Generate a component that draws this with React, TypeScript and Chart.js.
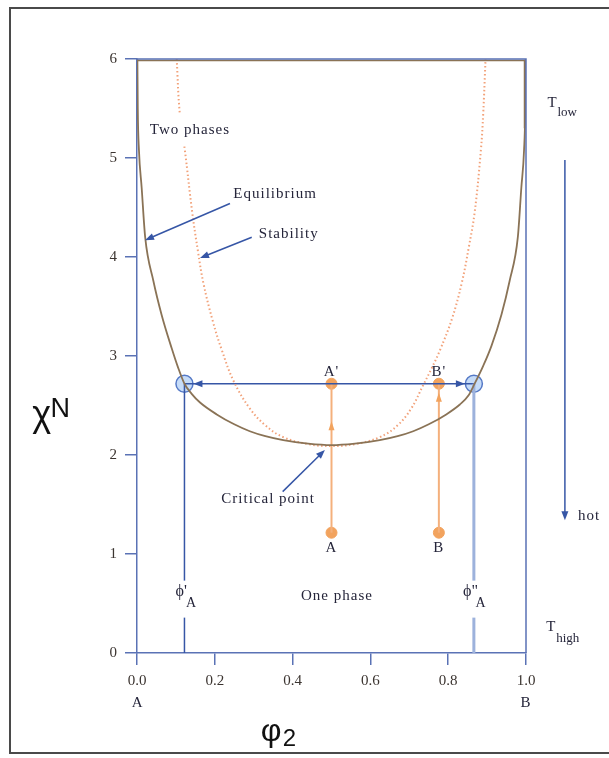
import React, { useEffect, useRef } from 'react';
import { Chart, registerables } from 'chart.js';

Chart.register(...registerables);

// ---------- data ----------
const binodalPhi = [0.001, 0.002, 0.005, 0.012, 0.021, 0.042, 0.063, 0.089, 0.105, 0.122, 0.14, 0.162, 0.205, 0.25, 0.29, 0.33, 0.376, 0.44, 0.5, 0.56, 0.624, 0.67, 0.71, 0.75, 0.795, 0.83, 0.852, 0.868, 0.89, 0.911, 0.937, 0.958, 0.979, 0.988, 0.995, 0.998, 0.999];
const binodalChiN = [6.0, 5.5, 5.08, 4.7, 4.2, 3.76, 3.42, 3.08, 2.89, 2.72, 2.62, 2.53, 2.41, 2.31, 2.24, 2.19, 2.15, 2.115, 2.1, 2.115, 2.15, 2.19, 2.24, 2.31, 2.41, 2.51, 2.6, 2.72, 2.9, 3.1, 3.42, 3.76, 4.2, 4.7, 5.08, 5.5, 6.0];

const spinodalPhi = [0.102, 0.11, 0.123, 0.142, 0.157, 0.171, 0.195, 0.218, 0.248, 0.29, 0.33, 0.376, 0.44, 0.5, 0.56, 0.624, 0.67, 0.705, 0.735, 0.758, 0.779, 0.81, 0.835, 0.853, 0.868, 0.884, 0.89, 0.896];
const spinodalChiN = [6.0, 5.45, 5.08, 4.45, 4.05, 3.73, 3.35, 3.06, 2.75, 2.47, 2.3, 2.18, 2.11, 2.09, 2.11, 2.18, 2.3, 2.47, 2.7, 2.88, 3.06, 3.38, 3.74, 4.1, 4.45, 5.08, 5.45, 6.0];

const coexPhi = [0.122, 0.866]; // phi'_A, phi''_A
const tieChiN = 2.72;
const quenchPhi = [0.5, 0.776]; // A, B
const quenchStartChiN = 1.215;
const quenchEndChiN = 2.72;

const xTicks = [0, 0.2, 0.4, 0.6, 0.8, 1.0];
const xTickLabels = ['0.0', '0.2', '0.4', '0.6', '0.8', '1.0'];
const yTicks = [0, 1, 2, 3, 4, 5, 6];
const yTickLabels = ['0', '1', '2', '3', '4', '5', '6'];

// text labels (data coordinates)
const labelTexts = ['Two phases', 'Equilibrium', 'Stability', 'Critical point', "A'", "B'", 'A', 'B', 'One phase', 'hot', 'A', 'B'];
const labelPhi = [0.136, 0.355, 0.39, 0.337, 0.5, 0.776, 0.5, 0.776, 0.514, 1.162, 0.002, 1.0];
const labelChiN = [5.28, 4.64, 4.23, 1.55, 2.84, 2.84, 1.06, 1.06, 0.576, 1.384, -0.505, -0.505];

// pointer arrows [fromPhi, fromChiN, toPhi, toChiN]
const pointerArrows = [
  [0.239, 4.54, 0.0206, 4.17],
  [0.295, 4.2, 0.162, 3.99],
  [0.3745, 1.63, 0.483, 2.05],
  [1.1, 4.98, 1.1, 1.34],
];

// ---------- styles ----------
const AXIS_BLUE = '#5a72b5';
const TIE_BLUE = '#3656a6';
const BROWN = '#8a7356';
const SPIN = '#f2a27a';
const ORANGE = '#f2a35e';
const ORANGE_LINE = '#f4b07c';
const TEXT = '#25253a';
const SERIF = "'Liberation Serif', 'DejaVu Serif', serif";
const SANS = "'Liberation Sans', 'DejaVu Sans', sans-serif";
const W = 609;
const H = 758;

const pts = (xs: number[], ys: number[]) => xs.map((x, i) => ({ x, y: ys[i] }));

function drawText(ctx: CanvasRenderingContext2D, s: string, x: number, y: number, font: string, color: string, align: CanvasTextAlign = 'center', spacing = 0, bg = false) {
  ctx.save();
  ctx.font = font;
  (ctx as any).letterSpacing = spacing + 'px';
  ctx.textAlign = align;
  ctx.textBaseline = 'middle';
  if (bg) {
    const w = ctx.measureText(s).width;
    const x0 = align === 'center' ? x - w / 2 : align === 'left' ? x : x - w;
    ctx.fillStyle = '#ffffff';
    ctx.fillRect(x0 - 3, y - 16, w + 6, 32);
  }
  ctx.fillStyle = color;
  ctx.fillText(s, x, y);
  ctx.restore();
}

function arrowHead(ctx: CanvasRenderingContext2D, x: number, y: number, ang: number, color: string, len = 9, half = 3.5) {
  ctx.save();
  ctx.fillStyle = color;
  ctx.beginPath();
  ctx.moveTo(x, y);
  ctx.lineTo(x - Math.cos(ang) * len - Math.sin(ang) * half, y - Math.sin(ang) * len + Math.cos(ang) * half);
  ctx.lineTo(x - Math.cos(ang) * len + Math.sin(ang) * half, y - Math.sin(ang) * len - Math.cos(ang) * half);
  ctx.closePath();
  ctx.fill();
  ctx.restore();
}

function arrow(ctx: CanvasRenderingContext2D, x1: number, y1: number, x2: number, y2: number, color: string, width = 1.5) {
  const ang = Math.atan2(y2 - y1, x2 - x1);
  ctx.save();
  ctx.strokeStyle = color;
  ctx.lineWidth = width;
  ctx.beginPath();
  ctx.moveTo(x1, y1);
  ctx.lineTo(x2 - Math.cos(ang) * 6, y2 - Math.sin(ang) * 6);
  ctx.stroke();
  ctx.restore();
  arrowHead(ctx, x2, y2, ang, color);
}

const decorPlugin = {
  id: 'decor',
  afterDatasetsDraw(chart: any) {
    const ctx: CanvasRenderingContext2D = chart.ctx;
    const xs = chart.scales.x;
    const ys = chart.scales.y;
    const px = (v: number) => xs.getPixelForValue(v);
    const py = (v: number) => ys.getPixelForValue(v);
    const { left, right, top } = chart.chartArea;

    // frame (top brown + blue, right blue)
    ctx.save();
    ctx.lineWidth = 1.5;
    ctx.strokeStyle = BROWN;
    ctx.beginPath();
    ctx.moveTo(left, top + 1.5);
    ctx.lineTo(right - 1.5, top + 1.5);
    ctx.lineTo(right - 1.5, py(5.3));
    ctx.stroke();
    ctx.strokeStyle = AXIS_BLUE;
    ctx.beginPath();
    ctx.moveTo(left, top);
    ctx.lineTo(right, top);
    ctx.lineTo(right, py(0));
    ctx.stroke();
    ctx.restore();

    // tie line arrow heads
    arrowHead(ctx, px(coexPhi[0]) + 9, py(tieChiN), Math.PI, TIE_BLUE);
    arrowHead(ctx, px(coexPhi[1]) - 9, py(tieChiN), 0, TIE_BLUE);
    // quench arrow heads
    arrowHead(ctx, px(quenchPhi[0]), py(2.34), -Math.PI / 2, ORANGE, 9, 3);
    arrowHead(ctx, px(quenchPhi[1]), py(2.63), -Math.PI / 2, ORANGE, 9, 3);

    // pointer arrows
    pointerArrows.forEach(([a, b, c, d]) => arrow(ctx, px(a), py(b), px(c), py(d), TIE_BLUE, 1.5));

    // labels
    const f = `15px ${SERIF}`;
    labelTexts.forEach((t, i) => {
      drawText(ctx, t, px(labelPhi[i]), py(labelChiN[i]), f, TEXT, 'center', 1, i === 0);
    });

    // phi'_A and phi''_A labels
    const subLab = (phi: number, main: string) => {
      const x = px(phi);
      const y = py(0.62);
      ctx.save();
      ctx.fillStyle = '#fff';
      ctx.fillRect(x - 12, y - 11, 30, 37);
      ctx.restore();
      drawText(ctx, main, x - 1, y, `16px ${SERIF}`, TEXT, 'center');
      drawText(ctx, 'A', x + 4, y + 12, `14px ${SERIF}`, TEXT, 'left');
    };
    subLab(coexPhi[0] - 0.006, "ϕ'");
    subLab(coexPhi[1] - 0.006, 'ϕ"');

    // T labels
    drawText(ctx, 'T', px(1.055), py(5.55), `15px ${SERIF}`, TEXT, 'left');
    drawText(ctx, 'low', px(1.055) + 10, py(5.55) + 9, `13px ${SERIF}`, TEXT, 'left');
    drawText(ctx, 'T', px(1.052), py(0.26), `15px ${SERIF}`, TEXT, 'left');
    drawText(ctx, 'high', px(1.052) + 10, py(0.26) + 11, `13px ${SERIF}`, TEXT, 'left');

    // axis titles
    drawText(ctx, 'χ', px(-0.245), py(2.39), `36px ${SANS}`, '#111', 'center');
    drawText(ctx, 'N', px(-0.197), py(2.46), `27px ${SANS}`, '#111', 'center');
    drawText(ctx, 'φ', px(0.345), py(-0.8), `32px ${SANS}`, '#111', 'center');
    drawText(ctx, '2', px(0.392), py(-0.87), `24px ${SANS}`, '#111', 'center');
  },
  afterDraw(chart: any) {
    const ctx: CanvasRenderingContext2D = chart.ctx;
    ctx.save();
    ctx.strokeStyle = '#4a4a4a';
    ctx.lineWidth = 2;
    ctx.strokeRect(10, 8, 700, 745);
    ctx.restore();
  },
};

export default function App() {
  const ref = useRef<HTMLCanvasElement>(null);
  useEffect(() => {
    const canvas = ref.current;
    if (!canvas) return;
    const lineDs = (label: string, data: any[], color: string, width: number, extra: any = {}) => ({
      label,
      data,
      showLine: true,
      borderColor: color,
      borderWidth: width,
      pointRadius: 0,
      fill: false,
      ...extra,
    });
    const chart = new Chart(canvas, {
      type: 'scatter',
      data: {
        datasets: [
          lineDs('Binodal', pts(binodalPhi, binodalChiN), BROWN, 1.8, { cubicInterpolationMode: 'monotone' }),
          lineDs('Spinodal', pts(spinodalPhi, spinodalChiN), SPIN, 2, { tension: 0.4, borderDash: [1.5, 2.5] }),
          lineDs("phi'A", [{ x: coexPhi[0], y: tieChiN }, { x: coexPhi[0], y: 0 }], TIE_BLUE, 1.5),
          lineDs('phi"A', [{ x: coexPhi[1], y: tieChiN }, { x: coexPhi[1], y: 0 }], '#9db2dc', 3),
          lineDs('Tie line', [{ x: coexPhi[0], y: tieChiN }, { x: coexPhi[1], y: tieChiN }], TIE_BLUE, 1.5),
          lineDs('A quench', [{ x: quenchPhi[0], y: quenchStartChiN }, { x: quenchPhi[0], y: quenchEndChiN }], ORANGE_LINE, 2),
          lineDs('B quench', [{ x: quenchPhi[1], y: quenchStartChiN }, { x: quenchPhi[1], y: quenchEndChiN }], ORANGE_LINE, 2),
          {
            label: 'States',
            data: [
              { x: quenchPhi[0], y: quenchStartChiN },
              { x: quenchPhi[0], y: quenchEndChiN },
              { x: quenchPhi[1], y: quenchStartChiN },
              { x: quenchPhi[1], y: quenchEndChiN },
            ],
            showLine: false,
            pointRadius: 5.5,
            pointBackgroundColor: ORANGE,
            pointBorderColor: ORANGE,
            pointBorderWidth: 1,
          },
          {
            label: 'Coexisting',
            data: [{ x: coexPhi[0], y: tieChiN }, { x: coexPhi[1], y: tieChiN }],
            showLine: false,
            pointRadius: 8.5,
            pointBackgroundColor: '#c6dcf8',
            pointBorderColor: '#5579c6',
            pointBorderWidth: 1.5,
            clip: false,
          },
        ],
      },
      options: {
        animation: false,
        responsive: false,
        devicePixelRatio: 1,
        layout: { padding: { left: 87, right: 83, top: 59, bottom: 55 } },
        plugins: { legend: { display: false }, tooltip: { enabled: false }, title: { display: false } },
        events: [],
        scales: {
          x: {
            type: 'linear',
            min: 0,
            max: 1,
            afterBuildTicks: (s: any) => {
              s.ticks = xTicks.map((v) => ({ value: v }));
            },
            afterFit: (s: any) => {
              s.height = 50;
            },
            ticks: {
              autoSkip: false,
              maxRotation: 0,
              padding: 7,
              color: '#3b3430',
              font: { family: SERIF, size: 15 },
              callback: (_v: any, i: number) => xTickLabels[i],
            },
            grid: { drawOnChartArea: false, drawTicks: true, tickLength: 12, color: AXIS_BLUE, lineWidth: 1.5 },
            border: { display: true, color: AXIS_BLUE, width: 1.5 },
          },
          y: {
            type: 'linear',
            min: 0,
            max: 6,
            afterBuildTicks: (s: any) => {
              s.ticks = yTicks.map((v) => ({ value: v }));
            },
            afterFit: (s: any) => {
              s.width = 50;
            },
            ticks: {
              autoSkip: false,
              padding: 8,
              color: '#3b3430',
              font: { family: SERIF, size: 15 },
              callback: (_v: any, i: number) => yTickLabels[i],
            },
            grid: { drawOnChartArea: false, drawTicks: true, tickLength: 12, color: AXIS_BLUE, lineWidth: 1.5 },
            border: { display: true, color: AXIS_BLUE, width: 1.5 },
          },
        },
      } as any,
      plugins: [decorPlugin],
    });
    return () => chart.destroy();
  }, []);
  return (
    <div style={{ position: 'absolute', left: 0, top: 0, width: W, height: H, background: '#fff', overflow: 'hidden' }}>
      <canvas ref={ref} width={W} height={H} style={{ display: 'block', width: W, height: H }} />
    </div>
  );
}
